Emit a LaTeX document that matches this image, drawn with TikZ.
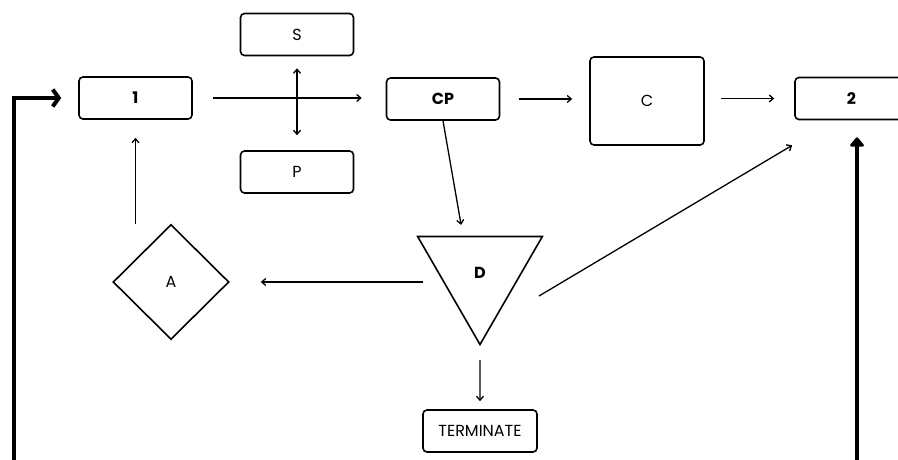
\documentclass[tikz,border=0pt]{standalone}
\usepackage{fontspec}
\setmainfont{Poppins}
\usetikzlibrary{arrows.meta,positioning,calc,shapes.geometric}

\begin{document}
\begin{tikzpicture}[x=1pt,y=-1pt,
    every node/.style={font=\fontsize{16}{18}\selectfont},
    box/.style={draw,line width=1.6pt,rounded corners=4pt,minimum width=113pt,minimum height=42pt,inner sep=0pt},
    shapeline/.style={draw,line width=1.6pt,inner sep=0pt},
    link/.style={-{Straight Barb[length=4pt,width=7pt]},line width=1.3pt},
    loop/.style={line width=4pt}
]
\useasboundingbox (0,0) rectangle (898,459);

\node[box] (n1) at (135.5,98) {\textbf{1}};
\node[box] (S) at (297,34.5) {S};
\node[box] (P) at (297,172) {P};
\node[box] (CP) at (443,99) {\textbf{CP}};
\node[box,minimum width=114pt,minimum height=88pt] (C) at (647,101) {C};
\node[box] (n2) at (851.5,98.5) {\textbf{2}};
\node[shapeline,diamond,minimum width=116pt,minimum height=115pt] (A) at (171,282) {A};
\node[shapeline,regular polygon,regular polygon sides=3,shape border rotate=180,minimum size=144pt] (D) at (480,272.5) {\textbf{D}};
\node[box,minimum width=114pt] (T) at (480,431) {TERMINATE};

\coordinate (loopL) at (14,465);
\coordinate (loopR) at (857,465);

\draw[link,shorten <=20pt,shorten >=24pt] (n1.east) -- (n1.east -| CP.west);
\draw[link,{Straight Barb[length=4pt,width=7pt]}-{Straight Barb[length=4pt,width=7pt]},shorten <=12pt,shorten >=15pt] (S) -- (P);
\draw[link,shorten <=19pt,shorten >=17pt] (CP.east) -- (CP.east -| C.west);
\draw[link,shorten <=16pt,shorten >=20pt] (n2.west -| C.east) -- (n2.west);
\draw[link,shorten >=11pt] (CP.south) -- ($(D.north)+(-17,0)$);
\draw[link,shorten <=15pt,shorten >=31pt] (A.east -| D.west) -- (A.east);
\draw[link] ($(D.center)+(59,23.5)$) -- ($(n2.south west)+(-2,25)$);
\draw[link,shorten <=14pt,shorten >=8pt] (D.south) -- (T.north);
\draw[link,shorten >=18pt] (A.north -| n1.south) -- (n1.south);

\draw[loop,-{Straight Barb[length=6pt,width=17pt]},shorten >=17pt] (loopL) |- (n1.west);
\draw[loop,-{Triangle[round,length=10pt,width=16pt]},shorten >=17pt] (loopR) -- (loopR |- n2.south);
\end{tikzpicture}
\end{document}
